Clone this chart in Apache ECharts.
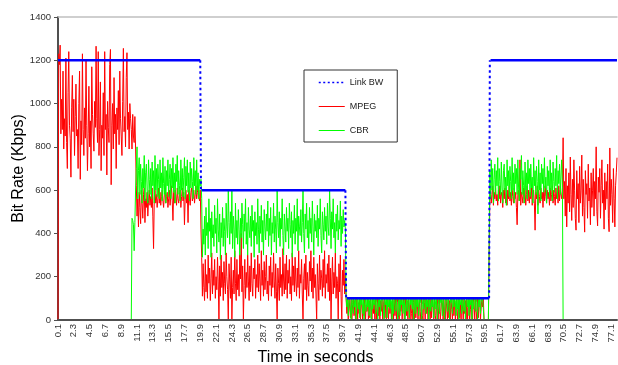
<!DOCTYPE html>
<html>
<head>
<meta charset="utf-8">
<script src="https://cdn.jsdelivr.net/npm/echarts@6/dist/echarts.min.js"></script>
<style>
  html, body { margin: 0; padding: 0; background: #fff; }
  #chart { width: 618px; height: 365px; }
</style>
</head>
<body>
<div id="chart"></div>
<script>
// Sample clock: one reading every 0.1 s, from 0.1 s to 77.9 s
const sampleCount = 779;
const times = Array.from({ length: sampleCount }, (_, i) => ((i + 1) / 10).toFixed(1));

// Link bandwidth schedule (Kbps) and the last sample time spent at each level
const linkBwLevels = [1200, 600, 100, 1200];
const linkBwLastTime = ['19.9', '40.1', '60.1'];

// MPEG stream bit rate (Kbps), one value per 0.1 s sample
const mpegHighLink = [ // 0.1 s - 10.9 s
  0,
  1230, 1180, 1270, 860, 1020, 880, 1150, 790, 930, 850,
  1210, 820, 700, 1050, 1240, 900, 840, 660, 980, 1130,
  870, 1020, 760, 940, 1090, 850, 880, 700, 1000, 1150,
  650, 920, 810, 1230, 880, 760, 980, 840, 1200, 900,
  690, 860, 1080, 800, 920, 700, 1170, 950, 860, 780,
  1010, 890, 1265, 930, 820, 1240, 760, 880, 1100, 690,
  900, 840, 1050, 760, 1240, 880, 950, 670, 1010, 890,
  820, 1180, 1250, 625, 900, 1000, 790, 1120, 860, 950,
  700, 980, 880, 1060, 810, 1150, 930, 850, 760, 1010,
  1255, 870, 940, 800, 1120, 1235, 880, 960, 790, 1000,
  930, 880, 790, 950, 850, 820, 940, 790
];
const mpegShared1200 = [ // 11.0 s - 19.9 s
  620, 480, 560, 430, 590, 520, 445, 600, 540, 470,
  580, 610, 450, 560, 520, 590, 480, 550, 600, 530,
  570, 520, 610, 480, 330, 560, 600, 540, 580, 520,
  560, 610, 540, 590, 530, 570, 600, 550, 520, 580,
  610, 540, 570, 590, 520, 560, 600, 530, 580, 620,
  550, 460, 590, 540, 600, 570, 530, 610, 560, 540,
  580, 600, 520, 570, 610, 550, 590, 440, 560, 600,
  540, 580, 450, 600, 560, 530, 590, 610, 550, 570,
  600, 540, 580, 620, 560, 590, 610, 570, 550, 600
];
const mpegLink600 = [ // 20.0 s - 40.1 s
  420, 290, 110, 260, 150, 90, 280, 130, 210, 100,
  300, 170, 240, 90, 190, 310, 120, 230, 160, 280,
  100, 200, 140, 290, 180, 0, 250, 110, 300, 150,
  220, 90, 270, 170, 120, 310, 200, 140, 0, 260,
  180, 100, 290, 0, 150, 230, 120, 320, 170, 90,
  280, 140, 210, 110, 300, 190, 400, 130, 250, 0,
  160, 280, 100, 220, 150, 300, 180, 90, 250, 130,
  310, 170, 110, 240, 190, 280, 100, 210, 150, 300,
  130, 260, 180, 90, 320, 160, 230, 110, 270, 140,
  200, 300, 120, 180, 90, 250, 160, 290, 110, 220,
  150, 310, 180, 100, 260, 130, 0, 240, 170, 90,
  290, 150, 210, 110, 330, 180, 120, 260, 140, 300,
  100, 230, 170, 280, 120, 200, 90, 310, 160, 250,
  130, 290, 180, 110, 240, 150, 320, 100, 210, 170,
  280, 120, 0, 190, 260, 140, 300, 90, 220, 160,
  110, 270, 180, 320, 130, 240, 100, 290, 150, 210,
  120, 0, 260, 170, 90, 300, 140, 230, 190, 110,
  280, 150, 320, 100, 210, 170, 260, 130, 300, 90,
  240, 0, 180, 290, 120, 220, 150, 310, 100, 200,
  170, 0, 260, 130, 300, 110, 0, 230, 160, 280,
  120, 210
];
const mpegLink100 = [ // 40.2 s - 60.1 s
  100, 30, 80, 0, 100, 60, 10, 100, 0, 70,
  100, 20, 90, 0, 50, 100, 0, 80, 30, 100,
  0, 100, 60, 0, 100, 20, 100, 0, 70, 40,
  100, 0, 90, 10, 100, 50, 0, 100, 30, 80,
  0, 100, 0, 60, 100, 20, 100, 0, 90, 40,
  100, 0, 70, 100, 10, 80, 0, 100, 50, 0,
  100, 30, 100, 0, 60, 100, 0, 90, 20, 100,
  0, 80, 100, 10, 0, 100, 40, 100, 0, 70,
  100, 0, 50, 100, 20, 90, 0, 100, 60, 0,
  100, 30, 0, 100, 80, 0, 100, 10, 70, 100,
  0, 60, 100, 0, 40, 100, 20, 0, 100, 80,
  0, 100, 30, 90, 0, 100, 50, 0, 100, 10,
  100, 70, 0, 100, 20, 0, 90, 100, 0, 60,
  100, 0, 40, 100, 80, 0, 100, 30, 0, 100,
  60, 0, 100, 10, 90, 0, 100, 50, 0, 100,
  20, 100, 0, 70, 100, 0, 40, 100, 10, 80,
  0, 100, 60, 0, 100, 30, 90, 0, 100, 0,
  70, 100, 0, 50, 100, 20, 0, 100, 80, 0,
  100, 40, 0, 100, 10, 90, 100, 0, 60, 100,
  60, 100, 0, 0, 0, 0, 0, 0, 0, 0
];
const mpegShared1200b = [ // 60.2 s - 70.3 s
  560, 600, 540, 580, 620, 530, 590, 560, 610, 550,
  580, 530, 600, 560, 620, 540, 590, 570, 520, 600,
  560, 610, 540, 580, 530, 600, 560, 620, 550, 590,
  530, 600, 570, 540, 610, 560, 590, 520, 440, 580,
  600, 550, 740, 530, 590, 570, 540, 610, 560, 600,
  530, 580, 620, 550, 600, 540, 590, 560, 610, 530,
  580, 600, 540, 415, 590, 560, 620, 530, 600, 570,
  540, 610, 560, 590, 520, 600, 550, 620, 570, 540,
  600, 560, 590, 530, 610, 550, 580, 620, 540, 600,
  570, 530, 610, 560, 590, 540, 620, 550, 600, 580,
  560, 610
];
const mpegAlone1200 = [ // 70.4 s - 77.9 s
  842, 560, 640, 480, 700, 430, 620, 540, 680, 500,
  753, 580, 460, 650, 520, 740, 600, 470, 415, 690,
  560, 630, 450, 710, 540, 600, 762, 480, 650, 520,
  406, 690, 580, 630, 470, 720, 550, 610, 440, 680,
  520, 600, 700, 480, 640, 560, 800, 500, 435, 660,
  590, 700, 470, 620, 740, 540, 600, 420, 680, 510,
  640, 560, 720, 470, 408, 795, 530, 650, 580, 450,
  700, 560, 430, 620, 680, 750
];

// CBR stream bit rate (Kbps); the stream runs from 10.3 s to 70.4 s
const cbrStartTime = '10.3';
const cbrShared1200 = [ // 10.3 s - 19.9 s
  0,
  470, 460, 440, 320, 450, 610, 700, 800, 560, 690,
  750, 580, 720, 640, 540, 700, 610, 760, 550, 680,
  720, 600, 540, 740, 650, 580, 700, 560, 730, 620,
  690, 540, 760, 600, 700, 570, 720, 650, 560, 740,
  610, 680, 550, 750, 630, 580, 710, 540, 690, 620,
  740, 570, 650, 720, 560, 700, 610, 750, 590, 680,
  540, 720, 640, 760, 580, 690, 620, 550, 740, 600,
  700, 570, 660, 750, 560, 710, 620, 740, 590, 680,
  550, 730, 610, 700, 640, 560, 750, 620, 690, 580,
  740, 600, 680, 560, 650, 620
];
const cbrLink600 = [ // 20.0 s - 40.1 s
  650, 560, 290, 420, 350, 480, 300, 520, 390, 450,
  330, 560, 410, 470, 290, 500, 380, 440, 340, 530,
  400, 470, 310, 560, 420, 360, 490, 280, 450, 380,
  520, 340, 470, 410, 300, 540, 430, 380, 600, 450,
  350, 500, 400, 600, 330, 480, 420, 290, 540, 380,
  460, 350, 510, 420, 300, 470, 380, 540, 440, 330,
  490, 410, 560, 350, 450, 300, 520, 420, 380, 480,
  340, 530, 410, 460, 290, 500, 390, 450, 350, 560,
  420, 310, 480, 400, 530, 360, 460, 300, 510, 430,
  370, 490, 410, 550, 340, 470, 390, 520, 300, 450,
  400, 540, 360, 480, 420, 310, 600, 450, 380, 500,
  340, 470, 420, 560, 390, 300, 490, 430, 360, 520,
  410, 470, 330, 540, 440, 380, 500, 290, 460, 400,
  530, 350, 470, 410, 560, 320, 480, 430, 390, 510,
  360, 450, 600, 400, 310, 490, 420, 540, 380, 460,
  330, 520, 400, 470, 360, 550, 430, 300, 490, 410,
  460, 380, 530, 340, 470, 420, 560, 390, 310, 500,
  440, 370, 520, 410, 480, 350, 540, 430, 390, 600,
  470, 330, 500, 420, 560, 380, 450, 310, 490, 410,
  530, 370, 460, 420, 550, 340, 480, 400, 510, 430,
  460, 420
];
const cbrLink100 = [ // 40.2 s - 60.1 s
  100, 60, 100, 20, 90, 100, 40, 0, 100, 80,
  30, 100, 60, 100, 0, 90, 100, 50, 100, 10,
  100, 70, 100, 30, 100, 0, 80, 100, 40, 100,
  60, 100, 20, 100, 90, 0, 100, 50, 100, 70,
  100, 30, 100, 80, 0, 100, 60, 100, 20, 100,
  90, 100, 40, 0, 100, 70, 100, 10, 100, 60,
  100, 50, 100, 90, 0, 100, 30, 100, 80, 40,
  100, 60, 0, 100, 90, 20, 100, 70, 100, 30,
  80, 100, 0, 60, 100, 40, 100, 90, 10, 100,
  70, 100, 50, 100, 0, 90, 100, 30, 100, 60,
  100, 20, 100, 80, 100, 0, 70, 100, 50, 100,
  90, 30, 100, 60, 100, 0, 100, 80, 40, 100,
  60, 100, 10, 90, 100, 50, 100, 0, 70, 100,
  30, 100, 80, 100, 20, 100, 60, 0, 100, 90,
  100, 40, 100, 70, 0, 100, 80, 100, 30, 100,
  60, 100, 90, 20, 100, 50, 100, 0, 100, 70,
  100, 30, 100, 80, 40, 100, 0, 90, 100, 60,
  100, 20, 100, 70, 100, 0, 100, 50, 90, 100,
  40, 100, 80, 0, 100, 60, 100, 30, 100, 90,
  100, 50, 0, 0, 0, 0, 0, 0, 0, 0
];
const cbrShared1200b = [ // 60.2 s - 70.4 s
  690, 560, 740, 600, 700, 540, 650, 720, 580, 690,
  620, 750, 550, 700, 640, 580, 730, 610, 540, 690,
  720, 600, 660, 530, 740, 620, 690, 570, 710, 640,
  560, 750, 600, 680, 540, 720, 630, 700, 580, 740,
  610, 550, 700, 650, 760, 580, 690, 620, 540, 730,
  600, 680, 560, 740, 630, 700, 570, 720, 610, 660,
  540, 750, 620, 690, 580, 710, 640, 490, 740, 600,
  680, 550, 720, 630, 700, 590, 750, 610, 660, 540,
  710, 620, 690, 570, 740, 600, 680, 550, 730, 640,
  590, 700, 620, 760, 560, 690, 630, 720, 580, 670,
  740, 620,
  0
];

const mpeg = [].concat(mpegHighLink, mpegShared1200, mpegLink600, mpegLink100, mpegShared1200b, mpegAlone1200);
const cbrValues = [].concat(cbrShared1200, cbrLink600, cbrLink100, cbrShared1200b);
const cbrOffset = times.indexOf(cbrStartTime);
const cbr = cbrValues.map((v, k) => [cbrOffset + k, v]);

// Expand the link schedule to one value per sample; level runs are drawn
// solid and each change of level is drawn as a dotted step
const changeIdx = linkBwLastTime.map(t => times.indexOf(t));
const linkBw = times.map((t, i) => linkBwLevels[changeIdx.filter(c => i > c).length]);
const linkFlat = linkBw.map((v, i) => (changeIdx.includes(i - 1) ? null : v));
const linkStep = linkBw.map((v, i) => (changeIdx.includes(i) || changeIdx.includes(i - 1) ? v : null));

const font = "'Liberation Sans', Arial, sans-serif";
const axisGrey = '#505050';

const chart = echarts.init(document.getElementById('chart'), null, { renderer: 'canvas' });
chart.setOption({
  animation: false,
  backgroundColor: '#ffffff',
  textStyle: { fontFamily: font },
  grid: { left: 58, right: 1, top: 17, bottom: 45, containLabel: false, outerBoundsMode: 'none' },
  legend: {
    orient: 'vertical',
    left: 304,
    top: 70,
    padding: [8, 14, 7, 14],
    itemGap: 15,
    itemWidth: 26,
    itemHeight: 11,
    borderColor: '#333333',
    borderWidth: 1,
    itemStyle: { opacity: 0 },
    textStyle: { fontFamily: font, fontSize: 9, color: '#222222' },
    data: [
      { name: 'Link BW', lineStyle: { width: 1.5, type: [2, 2.5] } },
      { name: 'MPEG', lineStyle: { width: 1 } },
      { name: 'CBR', lineStyle: { width: 1 } }
    ]
  },
  xAxis: [
    {
      type: 'category',
      data: times,
      boundaryGap: false,
      z: 10,
      axisLine: { lineStyle: { color: axisGrey, width: 2 } },
      axisTick: { show: false },
      axisLabel: { interval: 21, rotate: 90, fontSize: 9.5, color: '#333333', margin: 4, fontFamily: font },
      splitLine: { show: false },
      name: 'Time in seconds',
      nameLocation: 'middle',
      nameGap: 30,
      nameMoveOverlap: false,
      nameTextStyle: { fontSize: 16, color: '#000000', fontFamily: font, padding: [0, 44, 0, 0] }
    },
    {
      type: 'category',
      data: times,
      boundaryGap: false,
      position: 'top',
      axisLine: { lineStyle: { color: '#c0c0c0', width: 1.5 } },
      axisTick: { show: false },
      axisLabel: { show: false },
      splitLine: { show: false }
    }
  ],
  yAxis: {
    type: 'value',
    min: 0,
    max: 1400,
    interval: 200,
    axisLine: { show: true, lineStyle: { color: axisGrey, width: 2 } },
    axisTick: { show: true, length: 4, lineStyle: { color: axisGrey } },
    axisLabel: { fontSize: 9.5, color: '#333333', margin: 7, fontFamily: font, formatter: v => String(v) },
    splitLine: { show: false },
    name: 'Bit Rate (Kbps)',
    nameLocation: 'middle',
    nameGap: 31,
    nameMoveOverlap: false,
    nameTextStyle: { fontSize: 16, color: '#000000', fontFamily: font }
  },
  series: [
    {
      name: 'MPEG', type: 'line', data: mpeg, symbol: 'none', z: 2,
      lineStyle: { color: '#ff0000', width: 1 }, itemStyle: { color: '#ff0000' }
    },
    {
      name: 'CBR', type: 'line', data: cbr, symbol: 'none', z: 3,
      lineStyle: { color: '#00ff00', width: 1 }, itemStyle: { color: '#00ff00' }
    },
    {
      name: 'Link BW level', type: 'line', data: linkFlat, symbol: 'none', z: 4,
      lineStyle: { color: '#0000ff', width: 2.5 }, itemStyle: { color: '#0000ff' }
    },
    {
      name: 'Link BW', type: 'line', data: linkStep, symbol: 'none', z: 4,
      lineStyle: { color: '#0000ff', width: 2, type: [2.5, 3] }, itemStyle: { color: '#0000ff' }
    }
  ]
});
</script>
</body>
</html>
